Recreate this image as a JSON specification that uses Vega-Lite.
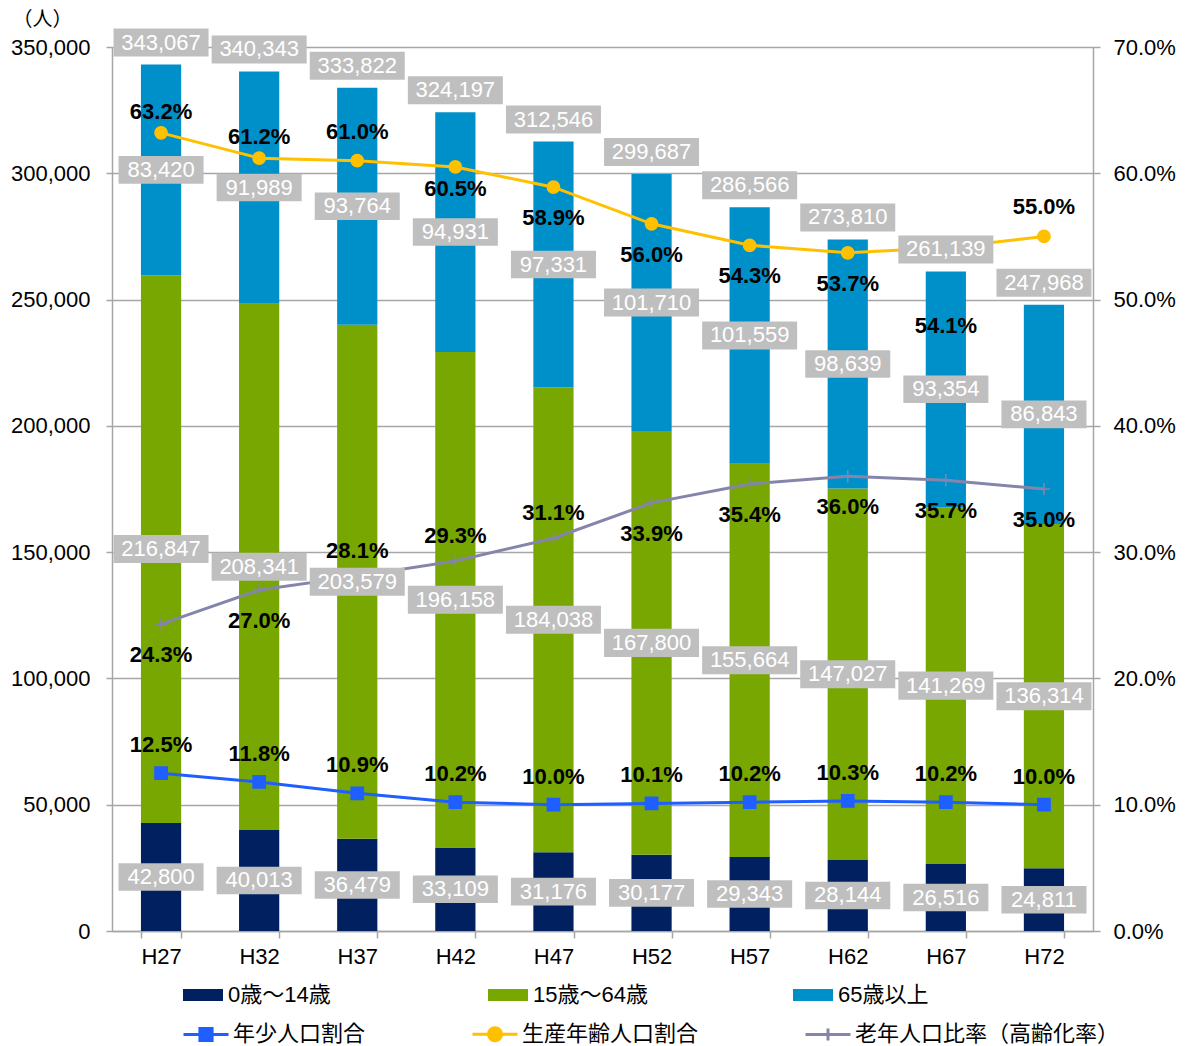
{
  "$schema": "https://vega.github.io/schema/vega-lite/v6.json",
  "width": 981,
  "height": 884,
  "autosize": {"type": "none"},
  "padding": {"left": 112, "top": 47, "right": 101, "bottom": 115},
  "background": "white",
  "config": {
    "view": {"stroke": null},
    "font": "Liberation Sans, Noto Sans CJK JP",
    "axis": {
      "labelFont": "Liberation Sans, Noto Sans CJK JP",
      "labelFontSize": 22,
      "labelColor": "#000000",
      "domainColor": "#a6a6a6",
      "tickColor": "#a6a6a6",
      "gridColor": "#a6a6a6",
      "domainWidth": 1.5,
      "tickWidth": 1.5,
      "gridWidth": 1.5
    },
    "legend": {
      "labelFont": "Liberation Sans, Noto Sans CJK JP",
      "labelFontSize": 22,
      "labelColor": "#000000",
      "padding": 0,
      "labelLimit": 400
    }
  },
  "datasets": {
    "pop": [
      {"year": "H27", "group": "0歳～14歳", "value": 42800},
      {"year": "H27", "group": "15歳～64歳", "value": 216847},
      {"year": "H27", "group": "65歳以上", "value": 83420},
      {"year": "H32", "group": "0歳～14歳", "value": 40013},
      {"year": "H32", "group": "15歳～64歳", "value": 208341},
      {"year": "H32", "group": "65歳以上", "value": 91989},
      {"year": "H37", "group": "0歳～14歳", "value": 36479},
      {"year": "H37", "group": "15歳～64歳", "value": 203579},
      {"year": "H37", "group": "65歳以上", "value": 93764},
      {"year": "H42", "group": "0歳～14歳", "value": 33109},
      {"year": "H42", "group": "15歳～64歳", "value": 196158},
      {"year": "H42", "group": "65歳以上", "value": 94931},
      {"year": "H47", "group": "0歳～14歳", "value": 31176},
      {"year": "H47", "group": "15歳～64歳", "value": 184038},
      {"year": "H47", "group": "65歳以上", "value": 97331},
      {"year": "H52", "group": "0歳～14歳", "value": 30177},
      {"year": "H52", "group": "15歳～64歳", "value": 167800},
      {"year": "H52", "group": "65歳以上", "value": 101710},
      {"year": "H57", "group": "0歳～14歳", "value": 29343},
      {"year": "H57", "group": "15歳～64歳", "value": 155664},
      {"year": "H57", "group": "65歳以上", "value": 101559},
      {"year": "H62", "group": "0歳～14歳", "value": 28144},
      {"year": "H62", "group": "15歳～64歳", "value": 147027},
      {"year": "H62", "group": "65歳以上", "value": 98639},
      {"year": "H67", "group": "0歳～14歳", "value": 26516},
      {"year": "H67", "group": "15歳～64歳", "value": 141269},
      {"year": "H67", "group": "65歳以上", "value": 93354},
      {"year": "H72", "group": "0歳～14歳", "value": 24811},
      {"year": "H72", "group": "15歳～64歳", "value": 136314},
      {"year": "H72", "group": "65歳以上", "value": 86843}
    ],
    "total": [
      {"year": "H27", "total": 343067},
      {"year": "H32", "total": 340343},
      {"year": "H37", "total": 333822},
      {"year": "H42", "total": 324197},
      {"year": "H47", "total": 312546},
      {"year": "H52", "total": 299687},
      {"year": "H57", "total": 286566},
      {"year": "H62", "total": 273810},
      {"year": "H67", "total": 261139},
      {"year": "H72", "total": 247968}
    ],
    "rate": [
      {"year": "H27", "series": "年少人口割合", "rate": 0.125},
      {"year": "H32", "series": "年少人口割合", "rate": 0.118},
      {"year": "H37", "series": "年少人口割合", "rate": 0.109},
      {"year": "H42", "series": "年少人口割合", "rate": 0.102},
      {"year": "H47", "series": "年少人口割合", "rate": 0.100},
      {"year": "H52", "series": "年少人口割合", "rate": 0.101},
      {"year": "H57", "series": "年少人口割合", "rate": 0.102},
      {"year": "H62", "series": "年少人口割合", "rate": 0.103},
      {"year": "H67", "series": "年少人口割合", "rate": 0.102},
      {"year": "H72", "series": "年少人口割合", "rate": 0.100},
      {"year": "H27", "series": "生産年齢人口割合", "rate": 0.632},
      {"year": "H32", "series": "生産年齢人口割合", "rate": 0.612},
      {"year": "H37", "series": "生産年齢人口割合", "rate": 0.610},
      {"year": "H42", "series": "生産年齢人口割合", "rate": 0.605},
      {"year": "H47", "series": "生産年齢人口割合", "rate": 0.589},
      {"year": "H52", "series": "生産年齢人口割合", "rate": 0.560},
      {"year": "H57", "series": "生産年齢人口割合", "rate": 0.543},
      {"year": "H62", "series": "生産年齢人口割合", "rate": 0.537},
      {"year": "H67", "series": "生産年齢人口割合", "rate": 0.541},
      {"year": "H72", "series": "生産年齢人口割合", "rate": 0.550},
      {"year": "H27", "series": "老年人口比率（高齢化率）", "rate": 0.243},
      {"year": "H32", "series": "老年人口比率（高齢化率）", "rate": 0.270},
      {"year": "H37", "series": "老年人口比率（高齢化率）", "rate": 0.281},
      {"year": "H42", "series": "老年人口比率（高齢化率）", "rate": 0.293},
      {"year": "H47", "series": "老年人口比率（高齢化率）", "rate": 0.311},
      {"year": "H52", "series": "老年人口比率（高齢化率）", "rate": 0.339},
      {"year": "H57", "series": "老年人口比率（高齢化率）", "rate": 0.354},
      {"year": "H62", "series": "老年人口比率（高齢化率）", "rate": 0.360},
      {"year": "H67", "series": "老年人口比率（高齢化率）", "rate": 0.357},
      {"year": "H72", "series": "老年人口比率（高齢化率）", "rate": 0.350}
    ]
  },
  "layer": [
    {
      "data": {"name": "pop"},
      "transform": [
        {"stack": "value", "groupby": ["year"], "sort": [{"field": "group", "order": "ascending"}], "as": ["v0", "v1"]}
      ],
      "mark": {"type": "bar"},
      "encoding": {
        "x": {
          "field": "year", "type": "nominal",
          "scale": {"paddingInner": 0.59, "paddingOuter": 0.295},
          "axis": {"title": null, "labelAngle": 0, "tickBand": "extent", "tickSize": 7, "labelPadding": 8, "grid": false}
        },
        "y": {
          "field": "v1", "type": "quantitative",
          "scale": {"domain": [0, 350000], "nice": false},
          "axis": {
            "title": "（人）", "titleAngle": 0, "titleAlign": "left", "titleBaseline": "middle",
            "titleX": -100, "titleY": -28, "titleFontSize": 20, "titleFontWeight": "normal",
            "titleFont": "Noto Sans CJK JP", "titleColor": "#000000",
            "values": [0, 50000, 100000, 150000, 200000, 250000, 300000, 350000],
            "format": ",d", "tickSize": 6, "labelPadding": 16, "grid": true
          }
        },
        "y2": {"field": "v0"},
        "color": {
          "field": "group", "type": "nominal",
          "scale": {"domain": ["0歳～14歳", "15歳～64歳", "65歳以上"], "range": ["#002060", "#77a700", "#0090c9"]},
          "legend": {
            "title": null, "orient": "none", "legendX": 71, "legendY": 928,
            "direction": "horizontal", "columns": 3, "gridAlign": "all", "columnPadding": 145,
            "symbolType": "M-1,-0.3H1V0.3H-1Z", "symbolSize": 1600, "symbolStrokeWidth": 0, "labelOffset": 5
          }
        }
      }
    },
    {
      "data": {"name": "rate"},
      "mark": {"type": "line", "strokeWidth": 3},
      "encoding": {
        "x": {"field": "year", "type": "nominal"},
        "y": {
          "field": "rate", "type": "quantitative",
          "scale": {"domain": [0, 0.7], "nice": false},
          "axis": {"orient": "right", "title": null, "values": [0, 0.1, 0.2, 0.3, 0.4, 0.5, 0.6, 0.7], "format": ".1%", "tickSize": 7, "labelPadding": 13, "grid": false}
        },
        "color": {
          "field": "series", "type": "nominal",
          "scale": {"domain": ["年少人口割合", "生産年齢人口割合", "老年人口比率（高齢化率）"], "range": ["#1f5fff", "#ffc000", "#8585ab"]},
          "legend": {
            "title": null, "orient": "none", "legendX": 70, "legendY": 963,
            "direction": "horizontal", "columns": 3, "gridAlign": "each", "columnPadding": 100,
            "symbolSize": 2025, "symbolStrokeWidth": 3, "labelOffset": 3,
            "encode": {
              "symbols": {
                "update": {
                  "shape": {"signal": "datum.value === '年少人口割合' ? 'M-1,0H1M-0.27,-0.27H0.27V0.27H-0.27Z' : datum.value === '生産年齢人口割合' ? 'M-1,0H1M0.29,0A0.29,0.29 0 1 1 -0.29,0A0.29,0.29 0 1 1 0.29,0Z' : 'M-1,0H1M0,-0.27V0.27'"},
                  "fill": {"signal": "datum.value === '年少人口割合' ? '#1f5fff' : datum.value === '生産年齢人口割合' ? '#ffc000' : 'transparent'"},
                  "stroke": {"signal": "datum.value === '年少人口割合' ? '#1f5fff' : datum.value === '生産年齢人口割合' ? '#ffc000' : '#8585ab'"},
                  "strokeWidth": {"value": 3},
                  "opacity": {"value": 1}
                }
              }
            }
          }
        }
      }
    },
    {
      "data": {"name": "rate"},
      "mark": {"type": "point", "filled": true, "size": 150, "opacity": 1, "strokeWidth": 1.5},
      "encoding": {
        "x": {"field": "year", "type": "nominal"},
        "y": {"field": "rate", "type": "quantitative", "scale": {"domain": [0, 0.7], "nice": false}, "axis": null},
        "color": {
          "field": "series", "type": "nominal",
          "scale": {"domain": ["年少人口割合", "生産年齢人口割合", "老年人口比率（高齢化率）"], "range": ["#1f5fff", "#ffc000", "#8585ab"]},
          "legend": null
        },
        "stroke": {
          "field": "series", "type": "nominal",
          "scale": {"domain": ["年少人口割合", "生産年齢人口割合", "老年人口比率（高齢化率）"], "range": ["#1f5fff", "#ffc000", "#8585ab"]},
          "legend": null
        },
        "shape": {
          "field": "series", "type": "nominal",
          "scale": {"domain": ["年少人口割合", "生産年齢人口割合", "老年人口比率（高齢化率）"], "range": ["square", "circle", "M-1,0H1M0,-1V1"]},
          "legend": null
        }
      }
    },
    {
      "data": {"name": "pop"},
      "transform": [
        {"stack": "value", "groupby": ["year"], "sort": [{"field": "group", "order": "ascending"}], "as": ["v0", "v1"]},
        {"calculate": "(datum.v0 + datum.v1) / 2", "as": "mid"}
      ],
      "mark": {"type": "point", "filled": true, "size": 9025, "opacity": 1, "color": "#bfbfbf", "strokeWidth": 0},
      "encoding": {
        "x": {"field": "year", "type": "nominal"},
        "y": {"field": "mid", "type": "quantitative", "scale": {"domain": [0, 350000], "nice": false}, "axis": null},
        "shape": {"condition": {"test": "datum.value >= 100000", "value": "M-1,-0.295H1V0.295H-1Z"}, "value": "M-0.895,-0.29H0.895V0.29H-0.895Z"}
      }
    },
    {
      "data": {"name": "pop"},
      "transform": [
        {"stack": "value", "groupby": ["year"], "sort": [{"field": "group", "order": "ascending"}], "as": ["v0", "v1"]},
        {"calculate": "(datum.v0 + datum.v1) / 2", "as": "mid"}
      ],
      "mark": {"type": "text", "color": "#ffffff", "fontSize": 22, "font": "Liberation Sans", "align": "center", "baseline": "middle"},
      "encoding": {
        "x": {"field": "year", "type": "nominal"},
        "y": {"field": "mid", "type": "quantitative", "scale": {"domain": [0, 350000], "nice": false}, "axis": null},
        "text": {"field": "value", "type": "quantitative", "format": ","}
      }
    },
    {
      "data": {"name": "total"},
      "mark": {"type": "point", "filled": true, "size": 9025, "opacity": 1, "color": "#bfbfbf", "strokeWidth": 0, "yOffset": -22, "shape": "M-1,-0.295H1V0.295H-1Z"},
      "encoding": {
        "x": {"field": "year", "type": "nominal"},
        "y": {"field": "total", "type": "quantitative", "scale": {"domain": [0, 350000], "nice": false}, "axis": null}
      }
    },
    {
      "data": {"name": "total"},
      "mark": {"type": "text", "color": "#ffffff", "fontSize": 22, "font": "Liberation Sans", "align": "center", "baseline": "middle", "dy": -22},
      "encoding": {
        "x": {"field": "year", "type": "nominal"},
        "y": {"field": "total", "type": "quantitative", "scale": {"domain": [0, 350000], "nice": false}, "axis": null},
        "text": {"field": "total", "type": "quantitative", "format": ","}
      }
    },
    {
      "data": {"name": "rate"},
      "transform": [{"filter": "datum.series === '年少人口割合'"}],
      "mark": {"type": "text", "color": "#000000", "fontSize": 22, "fontWeight": "bold", "font": "Liberation Sans", "align": "center", "baseline": "middle", "dy": -28},
      "encoding": {
        "x": {"field": "year", "type": "nominal"},
        "y": {"field": "rate", "type": "quantitative", "scale": {"domain": [0, 0.7], "nice": false}, "axis": null},
        "text": {"field": "rate", "type": "quantitative", "format": ".1%"}
      }
    },
    {
      "data": {"name": "rate"},
      "transform": [{"filter": "datum.series === '生産年齢人口割合' && indexof(['H27','H32'], datum.year) >= 0"}],
      "mark": {"type": "text", "color": "#000000", "fontSize": 22, "fontWeight": "bold", "font": "Liberation Sans", "align": "center", "baseline": "middle", "dy": -21},
      "encoding": {
        "x": {"field": "year", "type": "nominal"},
        "y": {"field": "rate", "type": "quantitative", "scale": {"domain": [0, 0.7], "nice": false}, "axis": null},
        "text": {"field": "rate", "type": "quantitative", "format": ".1%"}
      }
    },
    {
      "data": {"name": "rate"},
      "transform": [{"filter": "datum.series === '生産年齢人口割合' && indexof(['H37','H72'], datum.year) >= 0"}],
      "mark": {"type": "text", "color": "#000000", "fontSize": 22, "fontWeight": "bold", "font": "Liberation Sans", "align": "center", "baseline": "middle", "dy": -29},
      "encoding": {
        "x": {"field": "year", "type": "nominal"},
        "y": {"field": "rate", "type": "quantitative", "scale": {"domain": [0, 0.7], "nice": false}, "axis": null},
        "text": {"field": "rate", "type": "quantitative", "format": ".1%"}
      }
    },
    {
      "data": {"name": "rate"},
      "transform": [{"filter": "datum.series === '生産年齢人口割合' && datum.year === 'H42'"}],
      "mark": {"type": "text", "color": "#000000", "fontSize": 22, "fontWeight": "bold", "font": "Liberation Sans", "align": "center", "baseline": "middle", "dy": 22},
      "encoding": {
        "x": {"field": "year", "type": "nominal"},
        "y": {"field": "rate", "type": "quantitative", "scale": {"domain": [0, 0.7], "nice": false}, "axis": null},
        "text": {"field": "rate", "type": "quantitative", "format": ".1%"}
      }
    },
    {
      "data": {"name": "rate"},
      "transform": [{"filter": "datum.series === '生産年齢人口割合' && indexof(['H47','H52','H57','H62'], datum.year) >= 0"}],
      "mark": {"type": "text", "color": "#000000", "fontSize": 22, "fontWeight": "bold", "font": "Liberation Sans", "align": "center", "baseline": "middle", "dy": 31},
      "encoding": {
        "x": {"field": "year", "type": "nominal"},
        "y": {"field": "rate", "type": "quantitative", "scale": {"domain": [0, 0.7], "nice": false}, "axis": null},
        "text": {"field": "rate", "type": "quantitative", "format": ".1%"}
      }
    },
    {
      "data": {"name": "rate"},
      "transform": [{"filter": "datum.series === '生産年齢人口割合' && datum.year === 'H67'"}],
      "mark": {"type": "text", "color": "#000000", "fontSize": 22, "fontWeight": "bold", "font": "Liberation Sans", "align": "center", "baseline": "middle", "dy": 78},
      "encoding": {
        "x": {"field": "year", "type": "nominal"},
        "y": {"field": "rate", "type": "quantitative", "scale": {"domain": [0, 0.7], "nice": false}, "axis": null},
        "text": {"field": "rate", "type": "quantitative", "format": ".1%"}
      }
    },
    {
      "data": {"name": "rate"},
      "transform": [{"filter": "datum.series === '老年人口比率（高齢化率）' && indexof(['H37','H42','H47'], datum.year) >= 0"}],
      "mark": {"type": "text", "color": "#000000", "fontSize": 22, "fontWeight": "bold", "font": "Liberation Sans", "align": "center", "baseline": "middle", "dy": -25},
      "encoding": {
        "x": {"field": "year", "type": "nominal"},
        "y": {"field": "rate", "type": "quantitative", "scale": {"domain": [0, 0.7], "nice": false}, "axis": null},
        "text": {"field": "rate", "type": "quantitative", "format": ".1%"}
      }
    },
    {
      "data": {"name": "rate"},
      "transform": [{"filter": "datum.series === '老年人口比率（高齢化率）' && indexof(['H37','H42','H47'], datum.year) < 0"}],
      "mark": {"type": "text", "color": "#000000", "fontSize": 22, "fontWeight": "bold", "font": "Liberation Sans", "align": "center", "baseline": "middle", "dy": 31},
      "encoding": {
        "x": {"field": "year", "type": "nominal"},
        "y": {"field": "rate", "type": "quantitative", "scale": {"domain": [0, 0.7], "nice": false}, "axis": null},
        "text": {"field": "rate", "type": "quantitative", "format": ".1%"}
      }
    }
  ],
  "resolve": {"scale": {"y": "independent", "color": "independent", "shape": "independent", "stroke": "independent"}}
}
